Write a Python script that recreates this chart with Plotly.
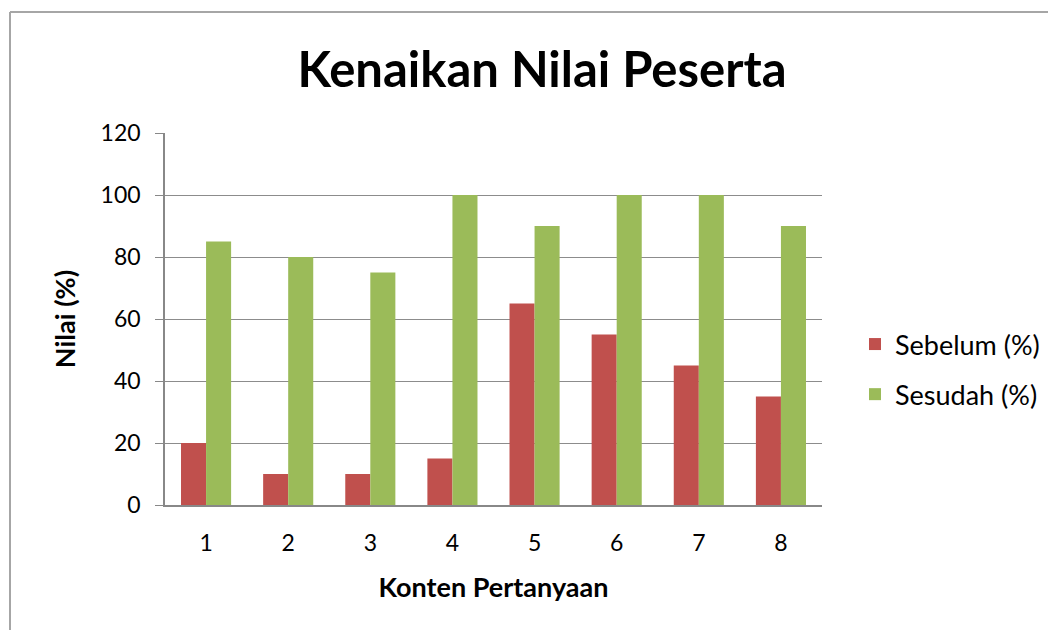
import plotly.graph_objects as go

categories = ["1", "2", "3", "4", "5", "6", "7", "8"]
sebelum = [20, 10, 10, 15, 65, 55, 45, 35]
sesudah = [85, 80, 75, 100, 90, 100, 100, 90]
y_ticks = [0, 20, 40, 60, 80, 100, 120]

# page body has an 8px margin: figure coords = screen coords - 8
OFF = 8
W, H = 1056, 630
L, R, T, B = 165 - OFF, 822 - OFF, 133 - OFF, 505 - OFF

FONT = "Lato, Carlito, Calibri, sans-serif"

fig = go.Figure()
fig.add_trace(go.Bar(name="Sebelum (%)", x=categories, y=sebelum, marker_color="#C0504D",
                     marker_line_width=0, legendgroup="a"))
fig.add_trace(go.Bar(name="Sesudah (%)", x=categories, y=sesudah, marker_color="#9BBB59",
                     marker_line_width=0, legendgroup="b"))

def px_x(p):
    return (p - OFF - L) / (R - L)

def px_y(p):
    return (B - (p - OFF)) / (B - T)

shapes = [
    dict(type="line", xref="paper", yref="paper", x0=px_x(10), x1=px_x(10), y0=px_y(12), y1=px_y(660),
         line=dict(color="#A6A6A6", width=2)),
    dict(type="line", xref="paper", yref="paper", x0=px_x(10), x1=px_x(1080), y0=px_y(12), y1=px_y(12),
         line=dict(color="#A6A6A6", width=2)),
]

fig.update_layout(
    width=W, height=H,
    margin=dict(l=L, r=W - R, t=T, b=H - B, pad=0),
    paper_bgcolor="white", plot_bgcolor="white",
    barmode="group", bargap=0.39, bargroupgap=0,
    font=dict(family=FONT, color="#000000"),
    title=dict(text="<b>Kenaikan Nilai Peserta</b>", xref="container", x=(542 - OFF) / W, xanchor="center",
               yref="container", y=1 - (70 - OFF) / H, yanchor="middle", font=dict(size=49, family=FONT)),
    xaxis=dict(tickfont=dict(size=23), showline=True, linecolor="#888888", linewidth=1.5,
               ticks="", showgrid=False, ticklabelstandoff=17,
               title=dict(text="<b>Konten Pertanyaan</b>", font=dict(size=27), standoff=23)),
    yaxis=dict(range=[0, 120], tickvals=y_ticks, tickfont=dict(size=23),
               showgrid=True, gridcolor="#8C8C8C", gridwidth=1.2,
               showline=True, linecolor="#888888", linewidth=1.5,
               ticks="outside", ticklen=8, tickcolor="#888888", ticklabelstandoff=10,
               zeroline=False,
               title=dict(text="<b>Nilai (%)</b>", font=dict(size=27), standoff=17)),
    legend=dict(x=px_x(855), y=px_y(320), xanchor="left", yanchor="top",
                font=dict(size=27), tracegroupgap=12, traceorder="grouped",
                bgcolor="rgba(0,0,0,0)"),
    shapes=shapes,
)

fig.write_html("out.html")
